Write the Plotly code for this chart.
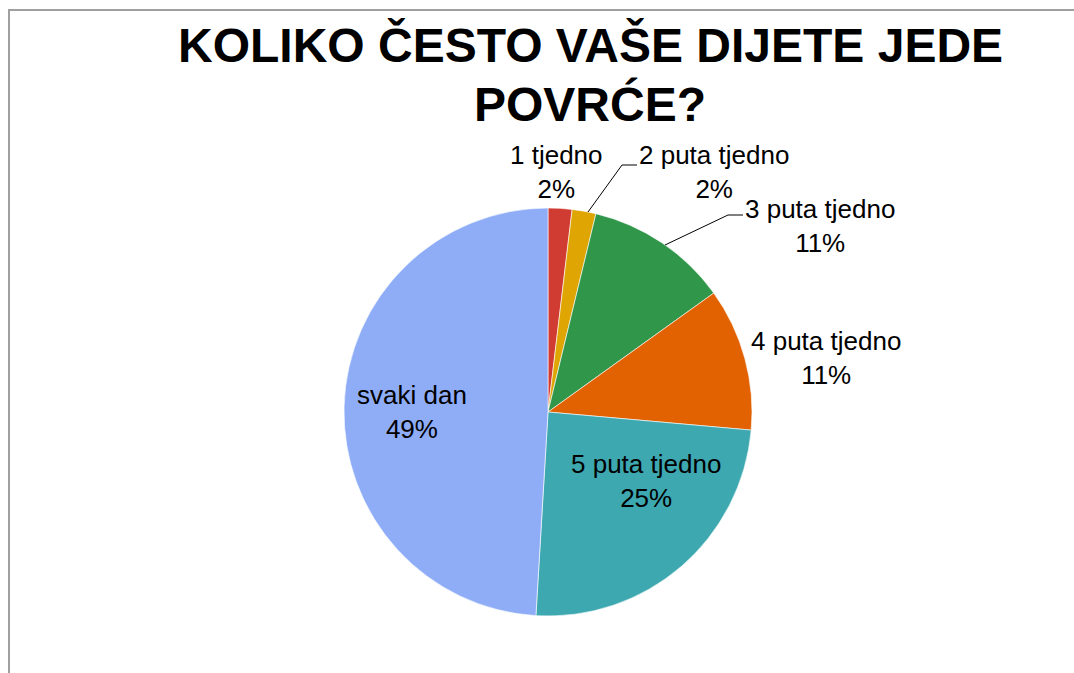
import plotly.graph_objects as go

categories = ["1 tjedno", "2 puta tjedno", "3 puta tjedno", "4 puta tjedno", "5 puta tjedno", "svaki dan"]
values = [1, 1, 6, 6, 13, 26]
colors = ["#D03C31", "#DFA503", "#2F964A", "#E26202", "#3DA8B0", "#8FADF7"]
title_lines = ["KOLIKO ČESTO VAŠE DIJETE JEDE", "POVRĆE?"]

W, H = 1074, 673
# label anchor positions in pixels (x, y from top of the window)
label_pos = [(556, 172), (714, 172), (820, 226), (826, 358), (646, 481), (412, 412)]
leaders = {1: [(588, 212), (622, 165), (637, 165)], 2: [(665, 245), (728, 215), (743, 215)]}

def px(x):
    return x / W

def py(y):
    return 1 - y / H

fig = go.Figure(go.Pie(
    labels=categories,
    values=values,
    sort=False,
    direction="clockwise",
    rotation=0,
    textinfo="none",
    hoverinfo="label+percent",
    marker=dict(colors=colors, line=dict(color="rgba(255,255,255,0.6)", width=1)),
    domain=dict(x=[px(344), px(752)], y=[py(616), py(208)]),
    showlegend=False,
))

total = sum(values)
annotations = []
for i, (cat, v) in enumerate(zip(categories, values)):
    x, y = label_pos[i]
    annotations.append(dict(
        x=px(x), y=py(y), xref="paper", yref="paper",
        text=f"{cat}<br>{round(100 * v / total)}%",
        showarrow=False, xanchor="center", yanchor="middle",
        font=dict(family="Liberation Sans, Arial", size=26, color="#000000"),
    ))

for t, yy in zip(title_lines, [45, 104]):
    annotations.append(dict(
        x=px(590), y=py(yy), xref="paper", yref="paper", text=f"<b>{t}</b>",
        showarrow=False, xanchor="center", yanchor="middle",
        font=dict(family="Liberation Sans, Arial", size=48, color="#000000"),
    ))

shapes = [dict(type="rect", xref="paper", yref="paper",
               x0=px(9), x1=1.05, y0=-0.05, y1=py(10),
               line=dict(color="#A0A0A0", width=2), fillcolor="rgba(0,0,0,0)")]
for k, pts in leaders.items():
    for (x0, y0), (x1, y1) in zip(pts[:-1], pts[1:]):
        shapes.append(dict(type="line", xref="paper", yref="paper",
                           x0=px(x0), y0=py(y0), x1=px(x1), y1=py(y1),
                           line=dict(color="#000000", width=1)))

fig.update_layout(
    width=W, height=H, autosize=False,
    margin=dict(l=0, r=0, t=0, b=0),
    paper_bgcolor="white", plot_bgcolor="white",
    annotations=annotations, shapes=shapes,
)

fig.write_html(
    "out.html",
    config={"displayModeBar": False},
    post_script="document.body.style.margin='0';document.body.style.overflow='hidden';",
)
